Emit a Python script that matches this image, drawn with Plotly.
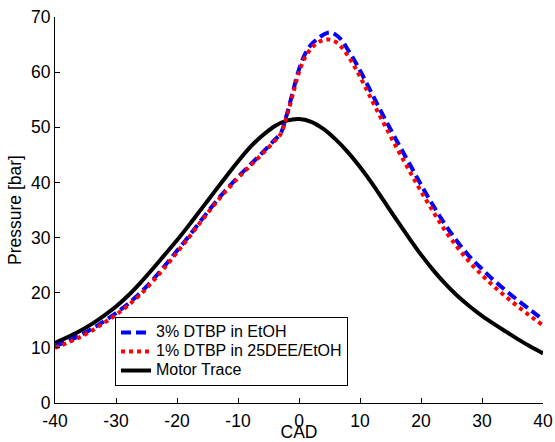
import plotly.graph_objects as go

# Crank angle (deg) sample points
cad_main = [-40, -38, -36, -34, -32, -30, -28, -26, -24, -22, -20, -18, -16, -14, -12, -10,
            -8, -6, -4, -3, -2, -1, 0, 1, 2, 3, 4, 5, 6, 7, 8, 9, 10, 12, 14, 16, 18, 20,
            22, 24, 26, 28, 30, 32, 34, 36, 38, 40]

dtbp_etoh = [10.3, 11.2, 12.2, 13.4, 14.8, 16.3, 18.0, 20.0, 22.3, 24.9, 27.6, 30.3, 33.2, 36.0, 38.6, 41.0,
             43.2, 45.4, 47.7, 48.9, 52.3, 56.5, 60.5, 63.3, 65.0, 66.0, 66.8, 67.2, 66.8, 65.8, 64.1, 62.3, 60.3,
             56.0, 51.7, 47.6, 43.6, 39.6, 35.8, 32.3, 29.2, 26.5, 24.3, 22.2, 20.3, 18.5, 16.8, 15.1]

dtbp_dee = [10.0, 10.9, 11.9, 13.1, 14.5, 16.0, 17.7, 19.7, 22.0, 24.6, 27.3, 30.1, 33.0, 35.8, 38.4, 40.8,
            43.0, 45.2, 47.5, 48.8, 52.0, 56.0, 60.0, 62.7, 64.3, 65.3, 65.8, 65.9, 65.5, 64.5, 63.0, 61.2, 59.2,
            54.8, 50.5, 46.3, 42.3, 38.4, 34.7, 31.2, 28.2, 25.5, 23.2, 21.1, 19.2, 17.4, 15.7, 14.1]

cad_motor = [-40, -38, -36, -34, -32, -30, -28, -26, -24, -22, -20, -18, -16, -14, -12, -10,
             -8, -6, -4, -2, 0, 2, 4, 6, 8, 10, 12, 14, 16, 18, 20, 22, 24, 26, 28, 30, 32, 34, 36, 38, 40]
motor = [10.9, 11.9, 13.0, 14.3, 15.8, 17.5, 19.5, 21.8, 24.3, 26.9, 29.5, 32.3, 35.2, 38.1, 41.0, 43.8,
         46.4, 48.5, 50.2, 51.2, 51.5, 51.0, 49.7, 47.8, 45.5, 42.8, 39.8, 36.5, 33.2, 30.0, 26.9, 24.1,
         21.6, 19.4, 17.5, 15.8, 14.3, 12.9, 11.5, 10.2, 9.0]

x_ticks = [-40, -30, -20, -10, 0, 10, 20, 30, 40]
y_ticks = [0, 10, 20, 30, 40, 50, 60, 70]

FONT = "Arial, Liberation Sans, sans-serif"
AXIS_FS = 17.5


def leg(name):
    return '<span style="font-size:16px">' + name + '</span>'


fig = go.Figure()
fig.add_trace(go.Scatter(x=cad_motor, y=motor, mode="lines", name=leg("Motor Trace"),
                         line=dict(color="black", width=4, shape="spline"), legendrank=3))
fig.add_trace(go.Scatter(x=cad_main, y=dtbp_etoh, mode="lines", name=leg("3% DTBP in EtOH"),
                         line=dict(color="#0000ff", width=4, dash="10px,5px", shape="spline"), legendrank=1))
fig.add_trace(go.Scatter(x=cad_main, y=dtbp_dee, mode="lines", name=leg("1% DTBP in 25DEE/EtOH"),
                         line=dict(color="#ff0000", width=4, dash="4px,4px", shape="spline"), legendrank=2))

fig.update_layout(
    width=555, height=442,
    margin=dict(l=55, r=12, t=17, b=39),
    paper_bgcolor="white", plot_bgcolor="white",
    font=dict(family=FONT, size=AXIS_FS, color="black"),
    showlegend=True,
    legend=dict(x=0.123, y=0.044, xanchor="left", yanchor="bottom",
                bgcolor="white", bordercolor="black", borderwidth=1,
                font=dict(family=FONT, size=11, color="black"),
                tracegroupgap=0, itemwidth=30),
)
fig.update_xaxes(range=[-40, 40], tickvals=x_ticks, ticktext=[str(v) for v in x_ticks],
                 showgrid=False, zeroline=False, showline=True, linecolor="black", linewidth=1,
                 ticks="inside", ticklen=5, tickcolor="black", automargin=False,
                 ticklabelstandoff=2, ticklabeloverflow="allow", tickfont=dict(size=AXIS_FS),
                 title=dict(text="CAD", font=dict(size=AXIS_FS), standoff=0))
fig.update_yaxes(range=[0, 70], tickvals=y_ticks, ticktext=[str(v) for v in y_ticks],
                 showgrid=False, zeroline=False, showline=True, linecolor="black", linewidth=1,
                 ticks="inside", ticklen=5, tickcolor="black", automargin=False,
                 ticklabeloverflow="allow", tickfont=dict(size=AXIS_FS),
                 title=dict(text="Pressure [bar]", font=dict(size=AXIS_FS), standoff=4))

fig.write_html("out.html")
